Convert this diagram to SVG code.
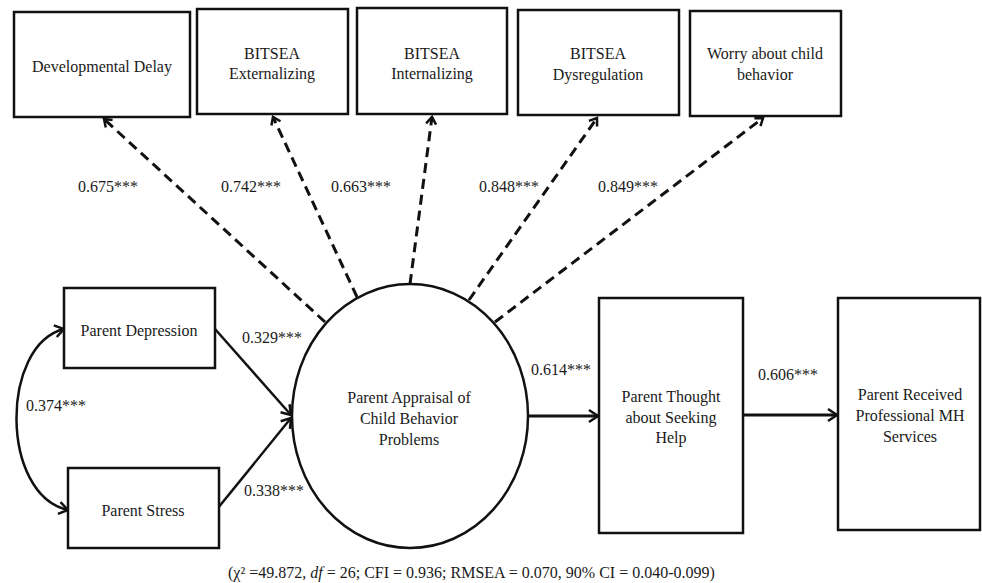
<svg xmlns="http://www.w3.org/2000/svg" width="982" height="583" viewBox="0 0 982 583" font-family="'Liberation Serif', 'DejaVu Serif', 'Times New Roman', serif">
<defs>
<style>
.box{fill:#fff;stroke:#111;stroke-width:2.5}
text{font-family:'Liberation Serif','DejaVu Serif','Times New Roman',serif;font-size:16px;fill:#1a1a1a}
.c{text-anchor:middle}
.sol{fill:none;stroke:#111;stroke-width:2.5}
.thick{fill:none;stroke:#111;stroke-width:3}
.dash{fill:none;stroke:#111;stroke-width:3;stroke-dasharray:10 6}
</style>
<marker id="ah" markerUnits="userSpaceOnUse" markerWidth="16" markerHeight="16" viewBox="0 0 16 16" refX="12" refY="8" orient="auto-start-reverse">
<path d="M3,2 L12,8 L3,14" fill="none" stroke="#111" stroke-width="2.5" stroke-dasharray="none"/>
</marker>
<marker id="ahd" markerUnits="userSpaceOnUse" markerWidth="14" markerHeight="14" viewBox="0 0 14 14" refX="10" refY="7" orient="auto">
<path d="M3,2 L10,7 L3,12" fill="none" stroke="#111" stroke-width="2.5" stroke-dasharray="none"/>
</marker>
</defs>
<rect width="982" height="583" fill="#fff"/>

<g id="connectors">
<path class="dash" d="M325,322 L104,119" marker-end="url(#ahd)"/>
<path class="dash" d="M357,297 L273,117" marker-end="url(#ahd)"/>
<path class="dash" d="M410,284 L432,117" marker-end="url(#ahd)"/>
<path class="dash" d="M469,300 L597,118" marker-end="url(#ahd)"/>
<path class="dash" d="M495,322 L763,118" marker-end="url(#ahd)"/>
<path class="sol" d="M215,329 L291,415" marker-end="url(#ah)"/>
<path class="sol" d="M218,508 L291,418" marker-end="url(#ah)"/>
<path class="sol" d="M64,329 C0,345 0,495 68,510" marker-start="url(#ah)" marker-end="url(#ah)"/>
<path class="thick" d="M528,416 L598,416" marker-end="url(#ah)"/>
<path class="thick" d="M743,415 L837,415" marker-end="url(#ah)"/>
<text x="78" y="192">0.675***</text>
<text x="221" y="192">0.742***</text>
<text x="331" y="192">0.663***</text>
<text x="479" y="192">0.848***</text>
<text x="598" y="192">0.849***</text>
<text x="242" y="343">0.329***</text>
<text x="244" y="496">0.338***</text>
<text x="26" y="411">0.374***</text>
<text x="531" y="375">0.614***</text>
<text x="758" y="380">0.606***</text>
</g>

<g id="n-devdelay">
<rect class="box" x="14" y="12" width="176" height="105"/>
<text class="c" x="102" y="72">Developmental Delay</text>
</g>
<g id="n-ext">
<rect class="box" x="197" y="9" width="151" height="105"/>
<text class="c" x="272" y="59">BITSEA</text>
<text class="c" x="272" y="79">Externalizing</text>
</g>
<g id="n-int">
<rect class="box" x="357" y="8" width="150" height="106"/>
<text class="c" x="432" y="59">BITSEA</text>
<text class="c" x="432" y="79">Internalizing</text>
</g>
<g id="n-dys">
<rect class="box" x="518" y="10" width="161" height="105"/>
<text class="c" x="598" y="59">BITSEA</text>
<text class="c" x="598" y="80">Dysregulation</text>
</g>
<g id="n-worry">
<rect class="box" x="690" y="11" width="151" height="105"/>
<text class="c" x="765" y="59">Worry about child</text>
<text class="c" x="765" y="80">behavior</text>
</g>
<g id="n-dep">
<rect class="box" x="64" y="288" width="151" height="80"/>
<text class="c" x="139" y="336">Parent Depression</text>
</g>
<g id="n-stress">
<rect class="box" x="68" y="468" width="151" height="80"/>
<text class="c" x="143" y="516">Parent Stress</text>
</g>
<g id="n-appraisal">
<ellipse class="box" cx="410" cy="416" rx="118" ry="132"/>
<text class="c" x="409" y="403">Parent Appraisal of</text>
<text class="c" x="409" y="424">Child Behavior</text>
<text class="c" x="409" y="445">Problems</text>
</g>
<g id="n-thought">
<rect class="box" x="599" y="298" width="144" height="235"/>
<text class="c" x="671" y="402">Parent Thought</text>
<text class="c" x="671" y="423">about Seeking</text>
<text class="c" x="671" y="443">Help</text>
</g>
<g id="n-received">
<rect class="box" x="838" y="298" width="142" height="232"/>
<text class="c" x="910" y="400">Parent Received</text>
<text class="c" x="910" y="421">Professional MH</text>
<text class="c" x="910" y="442">Services</text>
</g>
<text x="228" y="578">(χ² =49.872, <tspan font-style="italic">df</tspan> = 26; CFI = 0.936; RMSEA = 0.070, 90% CI = 0.040-0.099)</text>
</svg>
